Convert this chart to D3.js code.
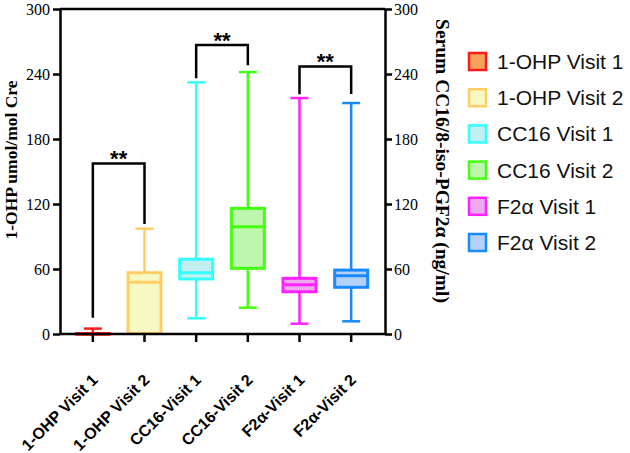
<!DOCTYPE html>
<html>
<head>
<meta charset="utf-8">
<script src="https://cdn.jsdelivr.net/npm/d3@7"></script>
<style>
  body { margin: 0; background: #fff; }
  svg { display: block; }
</style>
</head>
<body>
<div id="chart"></div>
<script>
// values (both y axes run 0..300)
const categories   = ["1-OHP Visit 1", "1-OHP Visit 2", "CC16-Visit 1", "CC16-Visit 2", "F2\u03b1-Visit 1", "F2\u03b1-Visit 2"];
const legendLabels = ["1-OHP Visit 1", "1-OHP Visit 2", "CC16 Visit 1", "CC16 Visit 2", "F2\u03b1 Visit 1", "F2\u03b1 Visit 2"];
const mins    = [0,   1,    14.5,  24.3,  9.5,   11.7];
const q1s     = [0,   0.5,  50.8,  60.6,  39.0,  43.1];
const medians = [0,   47.7, 56.6,  99.0,  45.5,  53.8];
const q3s     = [0.4, 56.6, 69.0,  116.0, 51.4,  59.0];
const maxs    = [5,   97.2, 232.3, 241.8, 217.8, 213.2];
const yTicks  = [0, 60, 120, 180, 240, 300];

// significance brackets: [left index, right index], bracket top, left leg end, right leg end
const bracketPairs = [[0, 1], [2, 3], [4, 5]];
const bracketTops  = [157.5, 266.8, 247];
const bracketLeft  = [15, 236, 221.2];
const bracketRight = [101.5, 248, 221.5];
const bracketText  = ["**", "**", "**"];

const strokeColors = ["#ff1a1a", "#ffcc66", "#33ffff", "#44ff11", "#ff22ff", "#1a88ff"];
const fillColors   = ["#f5a25d", "#f6fac2", "#c3eff0", "#bcf7ad", "#eeaaee", "#b4d2f5"];

const width = 630, height = 453;
const plotLeft = 60, plotRight = 385, plotTop = 9, plotBottom = 334;

const svg = d3.select("#chart").append("svg")
    .attr("width", width)
    .attr("height", height);

const x = d3.scaleBand()
    .domain(categories)
    .range([67, 377]);

const y = d3.scaleLinear()
    .domain([0, 300])
    .range([plotBottom, plotTop]);

const cx = d => x(d) + x.bandwidth() / 2;
const boxW = 33, capW = 18;

// frame line on top
svg.append("line")
    .attr("x1", plotLeft).attr("x2", plotRight)
    .attr("y1", plotTop).attr("y2", plotTop)
    .attr("stroke", "#000").attr("stroke-width", 2.5);

// boxes
const boxes = svg.append("g")
    .selectAll("g")
    .data(categories)
    .join("g");

boxes.append("line")
    .attr("x1", cx).attr("x2", cx)
    .attr("y1", (d, i) => y(mins[i]))
    .attr("y2", (d, i) => y(maxs[i]))
    .attr("stroke", (d, i) => strokeColors[i])
    .attr("stroke-width", 2.5);

boxes.selectAll("line.cap")
    .data((d, i) => [mins[i], maxs[i]].map(v => ({ d, i, v })))
    .join("line")
    .attr("class", "cap")
    .attr("x1", o => cx(o.d) - capW / 2)
    .attr("x2", o => cx(o.d) + capW / 2)
    .attr("y1", o => y(o.v))
    .attr("y2", o => y(o.v))
    .attr("stroke", o => strokeColors[o.i])
    .attr("stroke-width", 2.5);

boxes.append("rect")
    .attr("x", d => cx(d) - boxW / 2)
    .attr("width", boxW)
    .attr("y", (d, i) => y(q3s[i]))
    .attr("height", (d, i) => y(q1s[i]) - y(q3s[i]))
    .attr("fill", (d, i) => fillColors[i])
    .attr("stroke", (d, i) => strokeColors[i])
    .attr("stroke-width", 3);

boxes.append("line")
    .attr("x1", d => cx(d) - boxW / 2)
    .attr("x2", d => cx(d) + boxW / 2)
    .attr("y1", (d, i) => y(medians[i]))
    .attr("y2", (d, i) => y(medians[i]))
    .attr("stroke", (d, i) => strokeColors[i])
    .attr("stroke-width", 3);

// axes
const axisL = svg.append("g")
    .attr("transform", `translate(${plotLeft},0)`)
    .call(d3.axisLeft(y).tickValues(yTicks).tickSize(7).tickSizeOuter(0));

const axisR = svg.append("g")
    .attr("transform", `translate(${plotRight},0)`)
    .call(d3.axisRight(y).tickValues(yTicks).tickSize(7).tickSizeOuter(0));

const axisB = svg.append("g")
    .attr("transform", `translate(0,${plotBottom})`)
    .call(d3.axisBottom(x).tickSize(8).tickSizeOuter(0));

[axisL, axisR, axisB].forEach(g => {
    g.select(".domain").attr("stroke", "#000").attr("stroke-width", 2.5);
    g.selectAll(".tick line").attr("stroke", "#000").attr("stroke-width", 2.5);
});

axisB.select(".domain").attr("d", `M${plotLeft},0H${plotRight}`);

[axisL, axisR].forEach(g => {
    g.selectAll(".tick text")
        .attr("font-family", "'Liberation Serif', 'Times New Roman', serif")
        .attr("font-size", 16)
        .attr("fill", "#000");
});
axisL.selectAll(".tick text").attr("x", -10);
axisR.selectAll(".tick text").attr("x", 9);

axisB.selectAll(".tick text")
    .attr("font-family", "'Liberation Sans', Arial, sans-serif")
    .attr("font-weight", "bold")
    .attr("font-size", 16)
    .attr("fill", "#000")
    .attr("text-anchor", "end")
    .attr("dy", null)
    .attr("y", 0)
    .attr("transform", "translate(6,47) rotate(-45)");

// axis titles
svg.append("text")
    .attr("transform", "translate(17,160) rotate(-90)")
    .attr("text-anchor", "middle")
    .attr("font-family", "'Liberation Serif', 'Times New Roman', serif")
    .attr("font-weight", "bold")
    .attr("font-size", 17.5)
    .text("1-OHP umol/mol Cre");

svg.append("text")
    .attr("transform", "translate(436,161) rotate(90)")
    .attr("text-anchor", "middle")
    .attr("font-family", "'Liberation Serif', 'Times New Roman', serif")
    .attr("font-weight", "bold")
    .attr("font-size", 19.5)
    .text("Serum CC16/8-iso-PGF2\u03b1 (ng/ml)");

// significance brackets
const br = svg.append("g")
    .selectAll("g")
    .data(bracketPairs)
    .join("g");

br.append("path")
    .attr("fill", "none")
    .attr("stroke", "#000")
    .attr("stroke-width", 2.5)
    .attr("d", (p, i) => {
        const x1 = cx(categories[p[0]]), x2 = cx(categories[p[1]]);
        return `M${x1},${y(bracketLeft[i])}V${y(bracketTops[i])}H${x2}V${y(bracketRight[i])}`;
    });

br.append("text")
    .attr("x", p => (cx(categories[p[0]]) + cx(categories[p[1]])) / 2)
    .attr("y", (p, i) => y(bracketTops[i]) + 3)
    .attr("text-anchor", "middle")
    .attr("font-family", "'Liberation Sans', Arial, sans-serif")
    .attr("font-weight", "bold")
    .attr("font-size", 22)
    .text((p, i) => bracketText[i]);

// legend
const legend = svg.append("g")
    .attr("transform", "translate(468,52)")
    .selectAll("g")
    .data(legendLabels)
    .join("g")
    .attr("transform", (d, i) => `translate(0,${i * 36.2})`);

legend.append("rect")
    .attr("x", 1).attr("y", 1)
    .attr("width", 17).attr("height", 17)
    .attr("fill", (d, i) => fillColors[i])
    .attr("stroke", (d, i) => strokeColors[i])
    .attr("stroke-width", 2.5);

legend.append("text")
    .attr("x", 29)
    .attr("y", 17)
    .attr("font-family", "'Liberation Sans', Arial, sans-serif")
    .attr("font-size", 21)
    .attr("fill", "#111")
    .text(d => d);
</script>
</body>
</html>
